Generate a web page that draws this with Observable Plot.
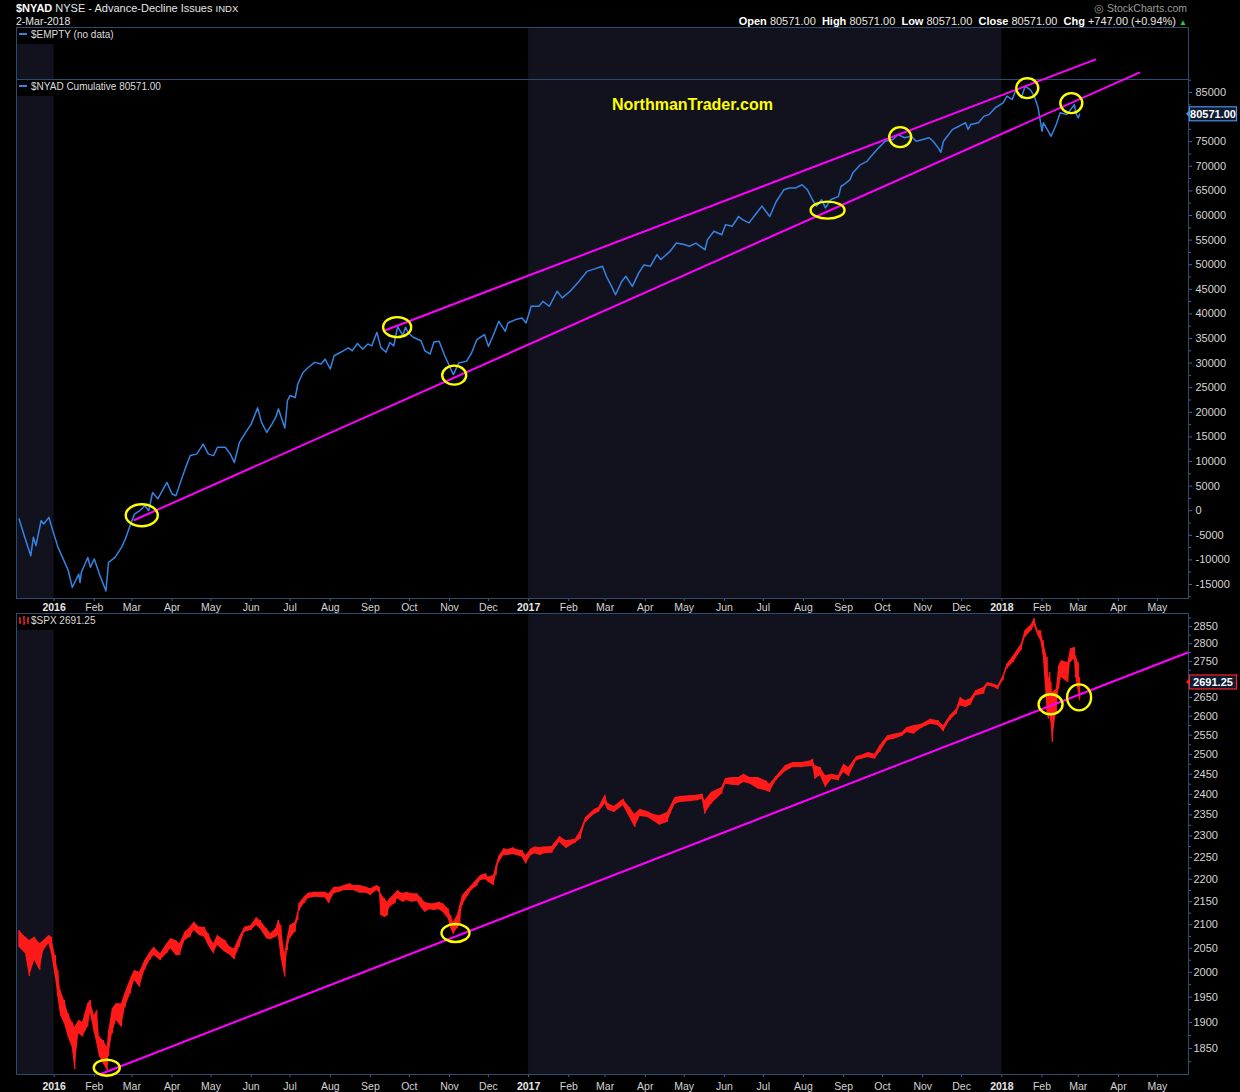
<!DOCTYPE html>
<html>
<head>
<meta charset="utf-8">
<script src="https://cdn.jsdelivr.net/npm/d3@7"></script>
<script src="https://cdn.jsdelivr.net/npm/@observablehq/plot@0.6"></script>
<style>
  html, body { margin:0; padding:0; background:#000; }
  #wrap { position:relative; width:1240px; height:1092px; background:#000; overflow:hidden;
          font-family:"Liberation Sans", Arial, Helvetica, sans-serif; color:#dcdcdc; }
  .t { position:absolute; white-space:nowrap; line-height:1; }
  .leg { position:absolute; background:#000; padding:1px 4px 3px 2px; font-size:10px; color:#dcdcdc; line-height:12px; white-space:nowrap; }
  .dash { display:inline-block; width:8px; height:2px; background:#3584e4; vertical-align:middle; margin-right:4px; position:relative; top:-1px; }
</style>
</head>
<body>
<div id="wrap"></div>
<script>
// ---------------- DATA ----------------
// $NYAD cumulative advance-decline line: [date, value]
const nyadSeries = [
["2015-12-05",-1700],["2015-12-09",-5100],["2015-12-14",-9150],["2015-12-16",-5400],["2015-12-18",-7100],["2015-12-22",-2000],["2015-12-24",-2700],["2015-12-28",-1350],["2015-12-31",-4050],
["2016-01-04",-7450],["2016-01-08",-9800],["2016-01-12",-12200],["2016-01-15",-15600],["2016-01-20",-12900],["2016-01-21",-14600],["2016-01-22",-12500],["2016-01-27",-9500],["2016-01-29",-11500],
["2016-02-01",-9800],["2016-02-05",-12900],["2016-02-10",-16300],["2016-02-12",-10500],["2016-02-17",-9500],["2016-02-22",-7450],["2016-02-25",-5750],["2016-02-29",-2700],
["2016-03-03",-700],["2016-03-07",0],["2016-03-11",1000],["2016-03-14",0],["2016-03-17",3700],["2016-03-21",2400],["2016-03-28",5750],
["2016-04-01",3400],["2016-04-04",3050],["2016-04-07",5400],["2016-04-11",8450],["2016-04-15",11200],["2016-04-20",11500],["2016-04-25",13550],["2016-04-29",11500],
["2016-05-03",11200],["2016-05-06",12900],["2016-05-12",12900],["2016-05-16",11500],["2016-05-19",9800],["2016-05-23",13900],["2016-05-27",15600],
["2016-06-01",17600],["2016-06-06",20900],["2016-06-09",17950],["2016-06-13",15900],["2016-06-17",17600],["2016-06-20",19000],["2016-06-22",20700],["2016-06-27",16800],["2016-06-29",22400],
["2016-07-01",23400],["2016-07-05",23000],["2016-07-07",25750],["2016-07-11",28100],["2016-07-15",29100],["2016-07-20",30150],["2016-07-25",29800],["2016-07-28",30800],
["2016-08-01",28800],["2016-08-04",31500],["2016-08-09",32200],["2016-08-15",33100],["2016-08-18",32500],["2016-08-22",34000],["2016-08-26",32850],["2016-08-30",33900],
["2016-09-02",33500],["2016-09-06",36250],["2016-09-09",33200],["2016-09-13",32200],["2016-09-16",34200],["2016-09-19",33500],["2016-09-22",37400],["2016-09-26",35600],["2016-09-28",37300],["2016-09-30",36250],
["2016-10-04",35250],["2016-10-10",34550],["2016-10-13",32500],["2016-10-17",31850],["2016-10-20",34300],["2016-10-24",34450],["2016-10-28",31700],
["2016-11-01",29350],["2016-11-04",27650],["2016-11-08",30000],["2016-11-14",30350],["2016-11-18",32050],["2016-11-22",34750],["2016-11-28",35800],
["2016-12-01",33400],["2016-12-05",35800],["2016-12-09",38500],["2016-12-14",36450],["2016-12-16",38150],["2016-12-22",38850],["2016-12-27",39150],["2016-12-30",38150],
["2017-01-03",41550],["2017-01-09",41550],["2017-01-12",42550],["2017-01-17",41550],["2017-01-23",44600],["2017-01-27",43250],
["2017-02-02",44600],["2017-02-09",46650],["2017-02-15",48650],["2017-02-21",49150],["2017-02-27",49700],
["2017-03-02",47650],["2017-03-06",45600],["2017-03-09",43900],["2017-03-14",46650],["2017-03-17",47650],["2017-03-22",45600],["2017-03-27",48350],["2017-03-31",49950],
["2017-04-05",49700],["2017-04-10",52050],["2017-04-13",51050],["2017-04-20",52700],["2017-04-25",54400],
["2017-05-01",54100],["2017-05-05",53750],["2017-05-10",54400],["2017-05-17",53050],["2017-05-19",55100],["2017-05-24",56800],["2017-05-30",56100],
["2017-06-02",58150],["2017-06-07",57800],["2017-06-12",59800],["2017-06-15",59150],["2017-06-20",58500],["2017-06-26",60550],["2017-06-30",61900],
["2017-07-06",59800],["2017-07-11",62850],["2017-07-17",65250],["2017-07-21",65600],["2017-07-26",65600],["2017-07-31",66250],
["2017-08-04",65250],["2017-08-08",63200],["2017-08-11",61900],["2017-08-15",63200],["2017-08-18",61550],["2017-08-22",63200],["2017-08-28",63900],["2017-08-30",65950],
["2017-09-01",66250],["2017-09-06",67300],["2017-09-08",68650],["2017-09-14",70350],["2017-09-19",71000],["2017-09-22",72000],["2017-09-28",73750],
["2017-10-03",75100],["2017-10-09",75450],["2017-10-13",76450],["2017-10-18",75800],["2017-10-23",76100],["2017-10-27",75100],
["2017-11-01",75450],["2017-11-06",75800],["2017-11-09",75100],["2017-11-13",73750],["2017-11-15",72850],["2017-11-17",75100],["2017-11-24",77500],["2017-11-29",78150],
["2017-12-04",78850],["2017-12-06",77500],["2017-12-08",78500],["2017-12-14",78850],["2017-12-18",80150],["2017-12-22",80500],["2017-12-27",81900],
["2018-01-02",82900],["2018-01-05",84250],["2018-01-09",83550],["2018-01-12",85600],["2018-01-16",83900],["2018-01-19",86250],["2018-01-23",85600],["2018-01-26",84250],["2018-01-29",81900],
["2018-02-01",77100],["2018-02-02",78850],["2018-02-05",77500],["2018-02-08",76100],["2018-02-12",78500],["2018-02-15",80900],["2018-02-20",80500],["2018-02-23",81500],["2018-02-26",82550],["2018-02-27",80900],["2018-02-28",80300],
["2018-03-01",79824],["2018-03-02",80571]
];

// $SPX price range: [date, high, low]
const spxSeries = [
["2015-12-05",2087.6,2052.3],["2015-12-10",2073.4,2038.4],["2015-12-13",2066.4,1991.6],["2015-12-17",2073.4,2024.5],["2015-12-21",2059.4,2003.8],["2015-12-24",2066.4,2045.3],["2015-12-28",2077.0,2059.4],["2015-12-30",2073.4,2038.4],
["2016-01-02",2034.9,1990.2],["2016-01-04",2003.8,1949.9],["2016-01-06",1963.2,1913.6],["2016-01-09",1943.2,1897.3],["2016-01-12",1916.9,1871.6],["2016-01-15",1900.6,1852.4],["2016-01-17",1890.9,1810.1],["2016-01-20",1903.8,1878.1],["2016-01-23",1900.6,1871.8],["2016-01-27",1936.6,1890.9],["2016-01-29",1943.2,1916.9],
["2016-02-01",1913.6,1881.2],["2016-02-03",1923.4,1858.9],["2016-02-05",1871.8,1834.9],["2016-02-08",1865.2,1821.2],["2016-02-11",1852.4,1808.8],["2016-02-12",1881.2,1834.9],["2016-02-15",1926.7,1878.1],["2016-02-18",1936.6,1903.8],["2016-02-22",1936.6,1890.9],["2016-02-25",1959.9,1930.0],["2016-02-29",1986.8,1956.5],
["2016-03-03",2003.8,1983.4],["2016-03-07",2000.4,1969.9],["2016-03-11",2024.5,2003.8],["2016-03-15",2041.8,2024.5],["2016-03-18",2052.3,2034.9],["2016-03-23",2038.4,2024.5],["2016-03-28",2059.4,2038.4],["2016-03-31",2069.9,2048.8],
["2016-04-04",2066.4,2034.9],["2016-04-07",2059.4,2034.9],["2016-04-11",2084.1,2066.4],["2016-04-15",2094.7,2073.4],["2016-04-18",2105.5,2087.6],["2016-04-22",2094.7,2077.0],["2016-04-26",2094.7,2073.4],["2016-04-29",2080.5,2055.9],
["2016-05-03",2059.4,2038.4],["2016-05-06",2077.0,2055.9],["2016-05-12",2066.4,2041.8],["2016-05-16",2052.3,2034.9],["2016-05-19",2048.8,2025.9],["2016-05-23",2073.4,2052.3],["2016-05-27",2094.7,2084.1],
["2016-06-01",2098.3,2087.6],["2016-06-05",2114.8,2098.3],["2016-06-08",2109.1,2091.2],["2016-06-13",2091.2,2069.9],["2016-06-16",2080.5,2067.8],["2016-06-20",2091.2,2073.4],["2016-06-22",2109.1,2077.0],["2016-06-24",2098.3,2031.5],["2016-06-27",2038.4,1990.2],["2016-06-29",2073.4,2045.3],
["2016-07-01",2098.3,2069.9],["2016-07-05",2105.5,2084.1],["2016-07-07",2127.2,2109.1],["2016-07-08",2145.4,2129.4],["2016-07-12",2160.1,2145.4],["2016-07-15",2169.0,2156.4],["2016-07-20",2171.2,2160.1],["2016-07-25",2171.2,2158.6],["2016-07-28",2171.2,2158.6],["2016-07-31",2167.5,2145.4],
["2016-08-04",2182.4,2167.5],["2016-08-08",2182.4,2171.2],["2016-08-12",2186.1,2174.9],["2016-08-16",2189.8,2174.9],["2016-08-19",2186.1,2174.9],["2016-08-24",2186.1,2169.0],["2016-08-29",2182.4,2169.0],
["2016-09-01",2178.6,2163.8],["2016-09-06",2186.1,2174.9],["2016-09-08",2182.4,2169.0],["2016-09-09",2167.5,2120.6],["2016-09-12",2156.4,2115.5],["2016-09-14",2149.0,2118.7],["2016-09-16",2156.4,2138.1],["2016-09-20",2167.5,2145.4],["2016-09-22",2174.9,2156.4],["2016-09-26",2167.5,2149.0],["2016-09-29",2171.2,2152.7],
["2016-10-03",2167.5,2149.0],["2016-10-07",2167.5,2151.2],["2016-10-10",2158.6,2138.1],["2016-10-13",2149.0,2127.2],["2016-10-17",2145.4,2132.2],["2016-10-20",2145.4,2130.8],["2016-10-24",2149.0,2132.2],["2016-10-27",2145.4,2127.2],["2016-10-31",2134.4,2112.7],
["2016-11-02",2120.0,2093.2],["2016-11-04",2105.5,2079.1],["2016-11-07",2120.0,2091.2],["2016-11-09",2141.7,2101.9],["2016-11-11",2163.8,2141.7],["2016-11-15",2176.4,2161.6],["2016-11-18",2186.1,2174.9],["2016-11-22",2198.8,2183.7],["2016-11-25",2208.6,2197.3],["2016-11-29",2212.3,2198.8],
["2016-12-01",2204.8,2193.6],["2016-12-05",2208.6,2186.1],["2016-12-07",2231.3,2208.6],["2016-12-09",2252.1,2236.8],["2016-12-13",2269.8,2254.4],["2016-12-16",2267.5,2254.4],["2016-12-20",2272.1,2256.7],["2016-12-23",2267.5,2254.4],["2016-12-27",2265.9,2250.5],["2016-12-30",2254.4,2234.5],
["2017-01-03",2269.8,2254.4],["2017-01-06",2273.7,2258.2],["2017-01-10",2272.1,2254.4],["2017-01-13",2273.7,2258.2],["2017-01-19",2275.2,2259.7],["2017-01-25",2298.5,2284.5],["2017-01-30",2288.4,2270.5],
["2017-02-06",2292.3,2282.9],["2017-02-10",2311.8,2292.3],["2017-02-14",2343.7,2331.7],["2017-02-21",2363.8,2351.7],["2017-02-24",2367.8,2355.7],
["2017-03-01",2398.0,2376.0],["2017-03-03",2378.4,2362.2],["2017-03-08",2370.3,2355.7],["2017-03-15",2388.1,2371.9],["2017-03-20",2367.8,2343.7],["2017-03-24",2351.7,2319.8],["2017-03-28",2363.8,2346.1],
["2017-04-03",2357.3,2343.7],["2017-04-07",2351.7,2335.7],["2017-04-12",2347.7,2325.3],["2017-04-18",2355.7,2331.7],["2017-04-24",2392.2,2376.0],["2017-04-28",2394.6,2380.0],
["2017-05-05",2396.2,2381.6],["2017-05-11",2398.0,2384.0],["2017-05-15",2400.4,2388.1],["2017-05-17",2384.0,2351.7],["2017-05-22",2404.5,2376.0],["2017-05-30",2416.8,2400.4],
["2017-06-02",2439.2,2425.1],["2017-06-07",2441.7,2422.7],["2017-06-12",2441.7,2421.0],["2017-06-16",2450.0,2429.2],["2017-06-21",2441.7,2425.1],["2017-06-27",2441.7,2413.0],
["2017-07-03",2433.4,2408.6],["2017-07-06",2425.1,2404.5],["2017-07-11",2444.2,2433.4],["2017-07-18",2471.1,2455.9],["2017-07-24",2479.5,2466.8],["2017-07-31",2479.5,2466.8],
["2017-08-07",2483.7,2469.4],["2017-08-08",2487.9,2472.8],["2017-08-10",2471.1,2437.5],["2017-08-14",2466.8,2445.8],["2017-08-18",2445.8,2416.8],["2017-08-23",2450.0,2437.5],["2017-08-28",2445.8,2433.4],
["2017-09-01",2475.3,2454.2],["2017-09-05",2466.8,2444.2],["2017-09-11",2494.8,2483.7],["2017-09-15",2498.2,2487.9],["2017-09-20",2505.0,2492.3],["2017-09-25",2500.8,2487.9],["2017-09-29",2522.2,2505.0],
["2017-10-05",2548.1,2535.1],["2017-10-10",2552.5,2539.1],["2017-10-16",2556.8,2546.4],["2017-10-20",2569.9,2556.8],["2017-10-25",2574.4,2552.5],["2017-10-31",2578.8,2567.3],
["2017-11-07",2592.0,2578.8],["2017-11-13",2587.6,2574.4],["2017-11-17",2574.4,2558.6],["2017-11-22",2600.8,2587.6],["2017-11-27",2618.7,2605.3],["2017-11-30",2650.1,2627.6],
["2017-12-04",2641.1,2623.2],["2017-12-08",2647.4,2629.5],["2017-12-12",2668.2,2654.6],["2017-12-18",2677.4,2659.2],["2017-12-21",2691.2,2682.0],["2017-12-26",2686.6,2677.4],["2017-12-29",2682.0,2671.0],
["2018-01-02",2709.6,2695.7],["2018-01-05",2742.2,2728.2],["2018-01-10",2765.6,2746.8],["2018-01-16",2799.0,2779.8],["2018-01-19",2837.4,2818.2],["2018-01-24",2856.9,2837.4],["2018-01-26",2873.5,2852.0],["2018-01-29",2837.4,2822.9],["2018-01-31",2837.4,2808.5],
["2018-02-02",2808.5,2765.6],["2018-02-05",2760.9,2609.7],["2018-02-06",2700.4,2592.0],["2018-02-07",2718.9,2600.8],["2018-02-08",2691.2,2583.2],["2018-02-09",2663.7,2530.8],["2018-02-12",2672.8,2609.7],["2018-02-14",2737.5,2672.8],["2018-02-16",2751.5,2705.0],["2018-02-21",2746.8,2691.2],["2018-02-23",2784.9,2746.8],["2018-02-26",2789.4,2756.0],["2018-02-27",2765.6,2705.0],
["2018-03-01",2746.8,2668.2],["2018-03-02",2705.0,2641.1]
];

// Trend lines drawn on the chart (two endpoints each)
const nyadUpperTrend = [["2016-09-13",36740],["2018-03-14",91690]];
const nyadLowerTrend = [["2016-03-03",-1890],["2018-04-17",89045]];
const spxTrend = [["2016-02-05",1801.4],["2018-05-25",2776.0]];

// Highlighted touch points (yellow ellipses)
const nyadTouches = [["2016-03-09",-1016],["2016-09-22",37204],["2016-11-05",27446],["2017-08-20",60990],["2017-10-15",75830],["2018-01-21",85793],["2018-02-24",82743]];
const spxTouches = [["2016-02-11",1813.1],["2016-11-06",2081.2],["2018-02-08",2630.4],["2018-03-02",2649.2]];

// Alternating year shading (2015 and 2017)
const shadeStart = ["2015-11-01","2017-01-01"];
const shadeEnd = ["2016-01-01","2018-01-01"];

// Axis ticks (80000 and 2700 are hidden behind the last-value boxes in the reference)
const yearTicks = ["2016-01-01","2017-01-01","2018-01-01"];
const monthTicks = ["2016-02-01","2016-03-01","2016-04-01","2016-05-01","2016-06-01","2016-07-01","2016-08-01","2016-09-01","2016-10-01","2016-11-01","2016-12-01",
  "2017-02-01","2017-03-01","2017-04-01","2017-05-01","2017-06-01","2017-07-01","2017-08-01","2017-09-01","2017-10-01","2017-11-01","2017-12-01",
  "2018-02-01","2018-03-01","2018-04-01","2018-05-01"];
const nyadTicks = [-15000,-10000,-5000,0,5000,10000,15000,20000,25000,30000,35000,40000,45000,50000,55000,60000,65000,70000,75000,85000];
const spxTicks = [1850,1900,1950,2000,2050,2100,2150,2200,2250,2300,2350,2400,2450,2500,2550,2600,2650,2750,2800,2850];

// Quote values
const nyadLast = "80571.00";
const nyadLastValue = 80571;
const spxLast = "2691.25";
const spxLastValue = 2691.25;

// ---------------- STYLE ----------------
const FRAME = "#2b4b71", TICK = "#3f6592", LABEL = "#d4d4d4", NAVY = "#12121f";
const BLUE = "#3584e4", RED = "#ff1a1a", MAGENTA = "#ff00ff", YELLOW = "#ffff00";
const FONT = "Liberation Sans, Arial, Helvetica, sans-serif";

const parse = s => new Date(s + "T00:00:00Z");
const nyad = nyadSeries.map(([d, v]) => ({date: parse(d), value: v}));
const spx = spxSeries.map(([d, h, l]) => ({date: parse(d), high: h, low: l}));
const toPts = arr => arr.map(([d, v]) => ({date: parse(d), value: v}));
const shade = shadeStart.map((s, i) => ({start: parse(s), end: parse(shadeEnd[i])}));
const xDomain = [parse("2015-12-03"), parse("2018-05-25")];
const mTicks = monthTicks.map(parse), yTicks = yearTicks.map(parse);
const nyadMinor = d3.range(-17500, 87501, 2500).filter(v => !nyadTicks.includes(v));
const spxMinor = d3.range(1825, 2876, 25).filter(v => !spxTicks.includes(v));

const baseStyle = {background: "transparent", color: LABEL, fontFamily: FONT, fontSize: "11px", overflow: "visible"};

function xAxes(pad) {
  return [
    Plot.axisX(mTicks, {anchor: "bottom", tickSize: 3, tickPadding: pad, tickFormat: d3.utcFormat("%b"), stroke: TICK, fill: LABEL, fontSize: 10.5, label: null}),
    Plot.axisX(yTicks, {anchor: "bottom", tickSize: 3, tickPadding: pad, tickFormat: d3.utcFormat("%Y"), stroke: TICK, fill: "#e8e8e8", fontSize: 10.5, fontWeight: "bold", label: null})
  ];
}

// ---------- Top panel ($EMPTY + $NYAD) ----------
const topChart = Plot.plot({
  width: 1240, height: 586,
  marginTop: 0, marginRight: 52, marginBottom: 15, marginLeft: 16,
  style: baseStyle,
  x: {type: "utc", domain: xDomain},
  y: {type: "linear", domain: [-17845, 98212]},
  marks: [
    Plot.rect(shade, {x1: "start", x2: "end", fill: NAVY, clip: true}),
    Plot.ruleY([87642], {stroke: FRAME}),
    Plot.axisY(nyadMinor, {anchor: "right", tickSize: 2, tickFormat: () => "", stroke: TICK, label: null}),
    Plot.axisY(nyadTicks, {anchor: "right", tickSize: 3, tickPadding: 4, tickFormat: d => String(d), stroke: TICK, fill: LABEL, fontSize: 11, label: null}),
    ...xAxes(2),
    Plot.line(nyad, {x: "date", y: "value", stroke: BLUE, strokeWidth: 1.5}),
    Plot.line(toPts(nyadUpperTrend), {x: "date", y: "value", stroke: MAGENTA, strokeWidth: 2}),
    Plot.line(toPts(nyadLowerTrend), {x: "date", y: "value", stroke: MAGENTA, strokeWidth: 2}),
    Plot.frame({stroke: FRAME})
  ]
});

// ---------- Bottom panel ($SPX) ----------
const botChart = Plot.plot({
  width: 1240, height: 479,
  marginTop: 0, marginRight: 52, marginBottom: 18, marginLeft: 16,
  style: baseStyle,
  x: {type: "utc", domain: xDomain},
  y: {type: "log", domain: [1801.4, 2888.2]},
  marks: [
    Plot.rect(shade, {x1: "start", x2: "end", fill: NAVY, clip: true}),
    Plot.axisY(spxMinor, {anchor: "right", tickSize: 2, tickFormat: () => "", stroke: TICK, label: null}),
    Plot.axisY(spxTicks, {anchor: "right", tickSize: 3, tickPadding: 2, tickFormat: d => String(d), stroke: TICK, fill: LABEL, fontSize: 11, label: null}),
    ...xAxes(5),
    Plot.areaY(spx, {x: "date", y1: "low", y2: "high", fill: RED}),
    Plot.ruleX(spx, {x: "date", y1: "low", y2: "high", stroke: RED, strokeWidth: 1.2}),
    Plot.line(toPts(spxTrend), {x: "date", y: "value", stroke: MAGENTA, strokeWidth: 2}),
    Plot.frame({stroke: FRAME})
  ]
});

// ---------- annotations using the plots' own scales ----------
function addEllipses(chart, pts, sizes) {
  const sx = chart.scale("x"), sy = chart.scale("y");
  const g = d3.select(chart).append("g");
  pts.forEach(([d, v], i) => {
    g.append("ellipse")
      .attr("cx", sx.apply(parse(d))).attr("cy", sy.apply(v))
      .attr("rx", sizes[i][0]).attr("ry", sizes[i][1])
      .attr("fill", "none").attr("stroke", YELLOW).attr("stroke-width", 2.4);
  });
}
addEllipses(topChart, nyadTouches, [[16,11],[14,10],[12,9.5],[17,8.5],[11,10],[11,10],[11,10]]);
addEllipses(botChart, spxTouches, [[13,8],[14,9],[12,10],[12,13]]);

function addValueBox(chart, value, text, color) {
  const sy = chart.scale("y"), sx = chart.scale("x");
  const y = sy.apply(value), x0 = sx.range[1];
  const g = d3.select(chart).append("g");
  g.append("path").attr("d", `M${x0 - 2},${y} L${x0 + 2},${y - 4} L${x0 + 2},${y + 4} Z`).attr("fill", color);
  g.append("rect").attr("x", x0 + 1.5).attr("y", y - 7).attr("width", 47).attr("height", 14)
    .attr("fill", "#0e1a30").attr("stroke", color).attr("stroke-width", 1.2);
  g.append("text").attr("x", x0 + 25).attr("y", y).attr("dy", "0.36em").attr("text-anchor", "middle")
    .attr("fill", "#ffffff").attr("font-weight", "bold").attr("font-size", 11).attr("font-family", FONT).text(text);
}
addValueBox(topChart, nyadLastValue, nyadLast, "#4a8fe6");
addValueBox(botChart, spxLastValue, spxLast, "#ff2020");

// ---------- layout ----------
const wrap = document.getElementById("wrap");
function place(el, top) { el.style.position = "absolute"; el.style.left = "0px"; el.style.top = top + "px"; wrap.appendChild(el); }
place(topChart, 27);
place(botChart, 613);

function html(str) { const d = document.createElement("div"); d.innerHTML = str; const el = d.firstElementChild; wrap.appendChild(el); return el; }

html(`<div class="t" style="left:16px;top:3px;font-size:11px;color:#e6e6e6"><b style="color:#fff">$NYAD</b> NYSE - Advance-Decline Issues <span style="font-size:9.5px">INDX</span></div>`);
html(`<div class="t" style="left:16px;top:16px;font-size:10.5px;color:#e6e6e6">2-Mar-2018</div>`);
html(`<div class="t" style="right:53px;top:3px;font-size:10.5px;color:#9c9c9c">&#9678; StockCharts.com</div>`);
html(`<div class="t" style="right:53px;top:16px;font-size:11px;color:#e6e6e6"><b style="color:#fff">Open</b> ${nyadLast}&nbsp; <b style="color:#fff">High</b> ${nyadLast}&nbsp; <b style="color:#fff">Low</b> ${nyadLast}&nbsp; <b style="color:#fff">Close</b> ${nyadLast}&nbsp; <b style="color:#fff">Chg</b> +747.00 (+0.94%) <span style="color:#27c93f;font-size:8px">&#9650;</span></div>`);

html(`<div class="leg" style="left:17px;top:28px"><span class="dash"></span>$EMPTY (no data)</div>`);
html(`<div class="leg" style="left:17px;top:80px"><span class="dash"></span>$NYAD Cumulative ${nyadLast}</div>`);
html(`<div class="leg" style="left:17px;top:614px"><svg width="11" height="9" style="vertical-align:middle;margin-right:1px;position:relative;top:-1px"><path d="M1,1V8M0,3H1M1,6H2M5,0V9M4,2H5M5,7H6M9,1V8M8,5H9M9,3H10" stroke="#ff2020" stroke-width="1.4" fill="none"/></svg>$SPX ${spxLast}</div>`);

html(`<div class="t" style="left:612px;top:97px;font-size:16px;font-weight:bold;color:#ffff00">NorthmanTrader.com</div>`);
</script>
</body>
</html>
